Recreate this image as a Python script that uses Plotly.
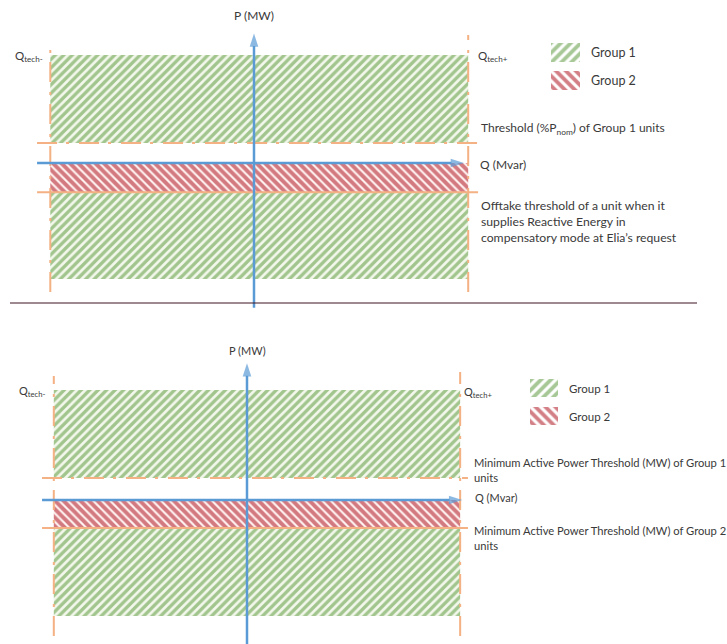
import plotly.graph_objects as go

W, H = 727, 644

# ---------------- data (diagram units: Q in Mvar-scale, P in MW-scale) ----------------
groups = ["Group 1", "Group 2"]

# top panel
top_q_tech = [-0.97, 1.02]                 # Q_tech-, Q_tech+
top_band_lo = [0.185, -0.27, -1.074]
top_band_hi = [1.0, 0.0, -0.27]
top_band_group = ["Group 1", "Group 2", "Group 1"]
top_dash_level = 0.185                     # Threshold (%Pnom) of Group 1 units
top_solid_level = -0.27                    # offtake threshold

# bottom panel
bot_q_tech = [-0.92, 1.015]
bot_band_lo = [0.2, -0.255, -1.055]
bot_band_hi = [1.0, 0.0, -0.255]
bot_band_group = ["Group 1", "Group 2", "Group 1"]
bot_dash_level = 0.2                       # Min active power threshold group 1
bot_solid_level = -0.255                   # Min active power threshold group 2

# texts
top_thr_text = "Threshold (%P<sub>nom</sub>) of Group 1 units"
top_off_text = ("Offtake threshold of a unit when it<br>supplies Reactive Energy in"
                "<br>compensatory mode at Elia’s request")
bot_thr1_text = "Minimum Active Power Threshold (MW) of Group 1<br>units"
bot_thr2_text = "Minimum Active Power Threshold (MW) of Group 2<br>units"

# ---------------- styles ----------------
FONT = "Lato, 'Open Sans', sans-serif"
TXT = "#3a3a3a"
BLUE = "#5B9BD5"
ORANGE = "#F4B183"
DASHDOT = "20px,9px,3px,10px"
pat_shape = {"Group 1": "/", "Group 2": "\\"}
pat_fg = {"Group 1": "#4F922E", "Group 2": "#A8000E"}
pat_bg = {"Group 1": "#F3F8EC", "Group 2": "#FFF4F2"}
pat_sol = {"Group 1": 0.55, "Group 2": 0.65}

fig = go.Figure()


def add_panel(xa, ya, q_tech, lo, hi, grp, dash_lvl, solid_lvl,
              q_axis, p_axis, left_v, right_v, h_ext):
    xr = dict(xaxis=xa, yaxis=ya)
    # hatched bands
    for l, h, g in zip(lo, hi, grp):
        fig.add_trace(go.Scatter(
            x=[q_tech[0], q_tech[1], q_tech[1], q_tech[0], q_tech[0]],
            y=[l, l, h, h, l], mode="lines", fill="toself",
            line=dict(width=0), fillcolor=pat_bg[g],
            fillpattern=dict(shape=pat_shape[g], size=6, solidity=pat_sol[g],
                             fgcolor=pat_fg[g], bgcolor=pat_bg[g]),
            hoverinfo="skip", showlegend=False, **xr))
    # orange technical limits
    for xs, ys, dash in [([q_tech[0], q_tech[0]], left_v, DASHDOT),
                         ([q_tech[1], q_tech[1]], right_v, DASHDOT),
                         (h_ext, [dash_lvl, dash_lvl], DASHDOT),
                         (h_ext, [solid_lvl, solid_lvl], "solid")]:
        fig.add_trace(go.Scatter(x=xs, y=ys, mode="lines",
                                 line=dict(color=ORANGE, width=2, dash=dash),
                                 hoverinfo="skip", showlegend=False, **xr))
    # blue axes with arrow heads
    for xs, ys in [(q_axis, [0, 0]), ([0, 0], p_axis)]:
        fig.add_trace(go.Scatter(
            x=xs, y=ys, mode="lines+markers",
            line=dict(color=BLUE, width=2.5),
            marker=dict(symbol=["circle", "arrow"], size=[0, 14], color=BLUE,
                        angleref="previous", line=dict(width=0)),
            cliponaxis=False, hoverinfo="skip", showlegend=False, **xr))


# top panel
add_panel("x", "y", top_q_tech, top_band_lo, top_band_hi, top_band_group,
          top_dash_level, top_solid_level,
          q_axis=[-1.033, 1.0], p_axis=[-1.34, 1.20],
          left_v=[-1.194, 1.12], right_v=[-1.194, 1.185], h_ext=[-1.033, 1.067])
# bottom panel
add_panel("x2", "y2", bot_q_tech, bot_band_lo, bot_band_hi, bot_band_group,
          bot_dash_level, bot_solid_level,
          q_axis=[-0.976, 1.025], p_axis=[-1.33, 1.243],
          left_v=[-1.236, 1.127], right_v=[-1.236, 1.164], h_ext=[-0.976, 1.052])


def txt(x, y, text, xref, yref, xanchor="left", yanchor="middle", xshift=0, yshift=0, size=11):
    fig.add_annotation(x=x, y=y, xref=xref, yref=yref, text=text, showarrow=False,
                       xanchor=xanchor, yanchor=yanchor, xshift=xshift, yshift=yshift,
                       align="left", font=dict(family=FONT, size=size, color=TXT))


# top labels
txt(0, 1.231, "P (MW)", "x", "y", xanchor="center", yanchor="bottom", yshift=5, size=12)
txt(top_q_tech[0], 1.0, "Q<sub>tech-</sub>", "x", "y", xanchor="right", xshift=-5, yshift=-1, size=11.5)
txt(top_q_tech[1], 1.0, "Q<sub>tech+</sub>", "x", "y", xanchor="left", xshift=8, yshift=-1, size=11.5)
txt(1.029, 0, "Q (Mvar)", "x", "y", xshift=8, yshift=-1, size=12)
txt(top_q_tech[1], top_dash_level, top_thr_text, "x", "y", yanchor="bottom", xshift=11, yshift=4, size=12)
txt(top_q_tech[1], top_solid_level, top_off_text, "x", "y", yanchor="top", xshift=11, yshift=-4, size=12.2)
# bottom labels
txt(0, 1.273, "P (MW)", "x2", "y2", xanchor="center", yanchor="bottom", yshift=1, size=11)
txt(bot_q_tech[0], 1.0, "Q<sub>tech-</sub>", "x2", "y2", xanchor="right", xshift=-6, yshift=-1, size=11)
txt(bot_q_tech[1], 1.0, "Q<sub>tech+</sub>", "x2", "y2", xanchor="left", xshift=2, yshift=-2, size=11)
txt(1.052, 0, "Q (Mvar)", "x2", "y2", xshift=5, yshift=3, size=11)
txt(bot_q_tech[1], bot_dash_level, bot_thr1_text, "x2", "y2", xshift=12, yshift=8, size=11.2)
txt(bot_q_tech[1], bot_solid_level, bot_thr2_text, "x2", "y2", xshift=12, yshift=-10, size=11.2)

# ---------------- custom legends (overlay axes in pixel units) ----------------
legend_boxes = [  # (x0, x1, [y0 per group], height, text x, font size)
    (551, 580, [43, 71], 19, 589, 12.5),
    (530, 558, [379, 407], 18, 567, 11.5),
]
for x0, x1, ys, hgt, tx, fs in legend_boxes:
    for g, y0 in zip(groups, ys):
        fig.add_trace(go.Scatter(
            x=[x0, x1, x1, x0, x0], y=[y0, y0, y0 + hgt, y0 + hgt, y0],
            mode="lines", fill="toself", line=dict(width=0), fillcolor="#FFFFFF",
            fillpattern=dict(shape=pat_shape[g], size=7, solidity=0.55,
                             fgcolor=pat_fg[g], bgcolor="#FFFFFF"),
            hoverinfo="skip", showlegend=False, xaxis="x3", yaxis="y3"))
        fig.add_annotation(x=tx, y=y0 + hgt / 2, xref="x3", yref="y3", text=g,
                           showarrow=False, xanchor="left", yanchor="middle",
                           font=dict(family=FONT, size=fs, color=TXT))

# separator
fig.add_shape(type="line", xref="paper", yref="paper", x0=10 / W, x1=697 / W,
              y0=1 - 303 / H, y1=1 - 303 / H, line=dict(color="#3e1422", width=1.2))

# ---------------- axes layout ----------------
def rng(o, s, a, b):
    return [(a - o) / s, (b - o) / s]

ax_off = dict(visible=False, showgrid=False, zeroline=False, fixedrange=True)
split = 310
fig.update_layout(
    width=W, height=H, margin=dict(l=0, r=0, t=0, b=0),
    paper_bgcolor="white", plot_bgcolor="rgba(0,0,0,0)", showlegend=False,
    hovermode=False,
    xaxis=dict(domain=[0, 1], range=rng(254, 210, 0, W), **ax_off),
    yaxis=dict(domain=[1 - split / H, 1], range=[-(split - 163) / 108, 163 / 108], **ax_off),
    xaxis2=dict(domain=[0, 1], range=rng(247, 210, 0, W), anchor="y2", **ax_off),
    yaxis2=dict(domain=[0, 1 - split / H], range=[-(H - 500) / 110, (500 - split) / 110],
                anchor="x2", **ax_off),
    xaxis3=dict(domain=[0, 1], range=[0, W], anchor="y3", **ax_off),
    yaxis3=dict(domain=[0, 1], range=[H, 0], anchor="x3", **ax_off),
)

fig.write_html("out.html", config={"displayModeBar": False},
               post_script="document.body.style.margin='0';document.body.style.overflow='hidden';")
